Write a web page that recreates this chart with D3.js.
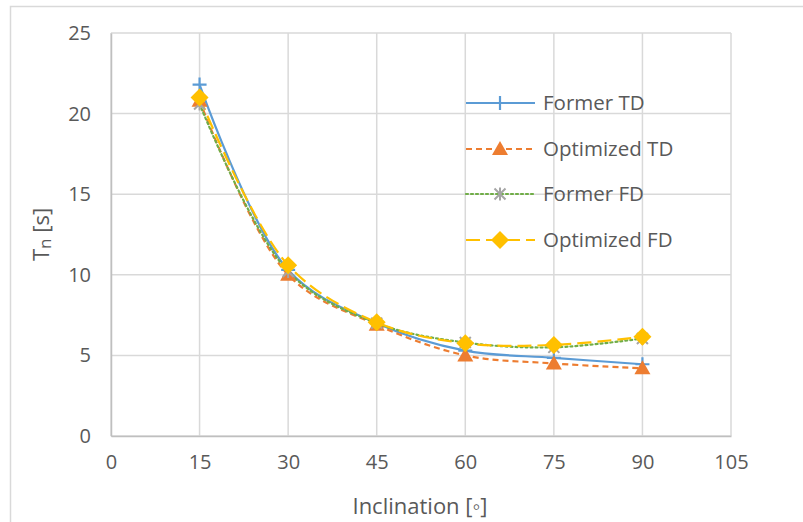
<!DOCTYPE html>
<html>
<head>
<meta charset="utf-8">
<script src="https://cdn.jsdelivr.net/npm/d3@7"></script>
<style>
  html, body { margin: 0; padding: 0; background: #fff; }
  svg { display: block; font-family: "Open Sans", "Noto Sans", sans-serif; }
</style>
</head>
<body>
<svg id="chart" width="803" height="522"></svg>
<script>
// Natural period against inclination angle
const inclination = [15, 30, 45, 60, 75, 90];
const formerTD    = [21.8, 10.3, 7.0, 5.3, 4.85, 4.45];
const optimizedTD = [20.8, 10.0, 6.9, 5.0, 4.5, 4.2];
const formerFD    = [20.6, 10.2, 7.0, 5.8, 5.5, 6.05];
const optimizedFD = [21.0, 10.6, 7.05, 5.75, 5.65, 6.15];

const xTicks = [0, 15, 30, 45, 60, 75, 90, 105];
const yTicks = [0, 5, 10, 15, 20, 25];

const seriesNames = ["Former TD", "Optimized TD", "Former FD", "Optimized FD"];

const series = [
  { name: seriesNames[0], values: formerTD,    stroke: "#5B9BD5", dash: null,    marker: "plus",     mColor: "#5B9BD5" },
  { name: seriesNames[1], values: optimizedTD, stroke: "#ED7D31", dash: "6,4",   marker: "triangle", mColor: "#ED7D31" },
  { name: seriesNames[2], values: formerFD,    stroke: "#70AD47", dash: "2,3",   marker: "asterisk", mColor: "#A5A5A5" },
  { name: seriesNames[3], values: optimizedFD, stroke: "#FFC000", dash: "14,6",  marker: "diamond",  mColor: "#FFC000" }
];

const svg = d3.select("#chart");
const plotLeft = 111, plotRight = 731, plotTop = 33, plotBottom = 436;

const x = d3.scaleLinear().domain([0, 105]).range([plotLeft, plotRight]);
const y = d3.scaleLinear().domain([0, 25]).range([plotBottom, plotTop]);

// outer chart frame
svg.append("rect")
  .attr("x", 10.5).attr("y", 6.5)
  .attr("width", 800).attr("height", 520)
  .attr("fill", "none").attr("stroke", "#d9d9d9").attr("stroke-width", 1.5);

// gridlines
const grid = svg.append("g");
grid.selectAll("line.v").data(xTicks).join("line")
  .attr("class", "v")
  .attr("x1", d => x(d)).attr("x2", d => x(d))
  .attr("y1", plotTop).attr("y2", plotBottom)
  .attr("stroke", "#d9d9d9").attr("stroke-width", 1.5);
grid.selectAll("line.h").data(yTicks).join("line")
  .attr("class", "h")
  .attr("x1", plotLeft).attr("x2", plotRight)
  .attr("y1", d => y(d)).attr("y2", d => y(d))
  .attr("stroke", "#d9d9d9").attr("stroke-width", 1.5);

// axes
const xAxis = svg.append("g").attr("transform", `translate(0,${plotBottom})`)
  .call(d3.axisBottom(x).tickValues(xTicks).tickSize(0).tickPadding(19));
const yAxis = svg.append("g").attr("transform", `translate(${plotLeft},0)`)
  .call(d3.axisLeft(y).tickValues(yTicks).tickSize(0).tickPadding(20));
[xAxis, yAxis].forEach(a => {
  a.select(".domain").attr("stroke", "#bfbfbf").attr("stroke-width", 1.5);
  a.selectAll("text").attr("fill", "#595959").attr("font-size", 20)
    .attr("font-family", "'Open Sans', 'Noto Sans', sans-serif");
});

// axis titles
svg.append("text")
  .attr("x", 420).attr("y", 514)
  .attr("text-anchor", "middle").attr("fill", "#595959").attr("font-size", 22)
  .text("Inclination [◦]");

const yTitle = svg.append("text")
  .attr("transform", `translate(49,${(plotTop + plotBottom) / 2}) rotate(-90)`)
  .attr("text-anchor", "middle").attr("fill", "#595959").attr("font-size", 22);
yTitle.append("tspan").text("T");
yTitle.append("tspan").attr("font-size", 17).attr("dy", 2).text("n");
yTitle.append("tspan").attr("dy", -2).text(" [s]");

// smoothed series lines
const line = d3.line()
  .x((d, i) => x(inclination[i]))
  .y(d => y(d))
  .curve(d3.curveCatmullRom.alpha(0.5));

// markers
function drawMarker(g, type, color, cx, cy) {
  if (type === "plus") {
    g.append("path").attr("d", `M${cx - 7},${cy}H${cx + 7}M${cx},${cy - 7}V${cy + 7}`)
      .attr("stroke", color).attr("stroke-width", 2.2).attr("fill", "none");
  } else if (type === "triangle") {
    g.append("path").attr("d", `M${cx},${cy - 8}L${cx + 8},${cy + 6}L${cx - 8},${cy + 6}Z`)
      .attr("fill", color);
  } else if (type === "asterisk") {
    const r = 5.5;
    g.append("path").attr("d",
      `M${cx - r},${cy - r}L${cx + r},${cy + r}M${cx - r},${cy + r}L${cx + r},${cy - r}M${cx},${cy - r - 1}V${cy + r + 1}`)
      .attr("stroke", color).attr("stroke-width", 2).attr("fill", "none");
  } else if (type === "diamond") {
    g.append("path").attr("d", `M${cx},${cy - 9}L${cx + 9},${cy}L${cx},${cy + 9}L${cx - 9},${cy}Z`)
      .attr("fill", color);
  }
}

const plot = svg.append("g");
series.forEach(s => {
  plot.append("path").datum(s.values)
    .attr("d", line)
    .attr("fill", "none")
    .attr("stroke", s.stroke)
    .attr("stroke-width", 2.2)
    .attr("stroke-dasharray", s.dash)
    .attr("stroke-linecap", s.marker === "asterisk" ? "round" : "butt");
});
series.forEach(s => {
  const g = plot.append("g");
  s.values.forEach((v, i) => drawMarker(g, s.marker, s.mColor, x(inclination[i]), y(v)));
});

// legend
const legendY = [103, 149, 194, 240];
const legend = svg.append("g");
series.forEach((s, i) => {
  const ly = legendY[i];
  legend.append("line")
    .attr("x1", 466).attr("x2", 535).attr("y1", ly).attr("y2", ly)
    .attr("stroke", s.stroke).attr("stroke-width", 2.2)
    .attr("stroke-dasharray", s.dash)
    .attr("stroke-linecap", s.marker === "asterisk" ? "round" : "butt");
  drawMarker(legend, s.marker, s.mColor, 500, ly);
  legend.append("text")
    .attr("x", 543).attr("y", ly + 7)
    .attr("fill", "#595959").attr("font-size", 20.5)
    .text(s.name);
});
</script>
</body>
</html>
